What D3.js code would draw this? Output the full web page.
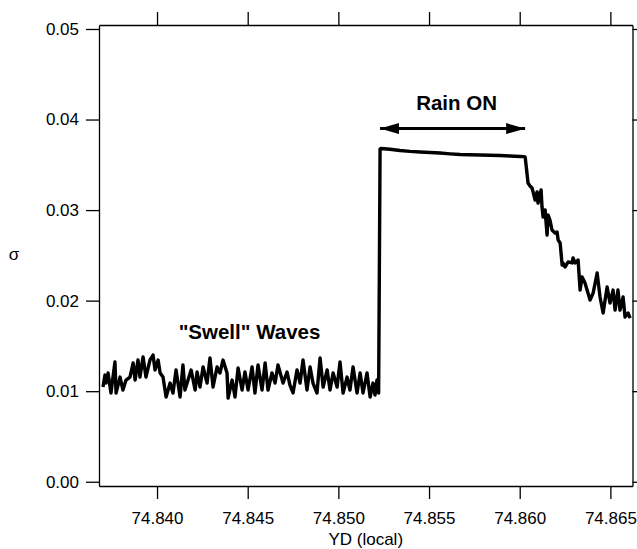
<!DOCTYPE html>
<html>
<head>
<meta charset="utf-8">
<script src="https://cdn.jsdelivr.net/npm/d3@7"></script>
<style>
  body { margin: 0; background: #fff; }
  svg { display: block; }
  text { font-family: "Liberation Sans", Arial, Helvetica, sans-serif; fill: #000; }
</style>
</head>
<body>
<svg id="chart" width="637" height="549"></svg>
<script>
// Time stamps (year-day, local) of the wave-height record
const yd = [
  74.83702, 74.83713, 74.83719, 74.83730, 74.83746, 74.83768, 74.83774, 74.83796, 74.83812, 74.83829,
  74.83851, 74.83868, 74.83879, 74.83895, 74.83906, 74.83923, 74.83939, 74.83961, 74.83978, 74.83989,
  74.84006, 74.84017, 74.84033, 74.84050, 74.84072, 74.84088, 74.84105, 74.84127, 74.84143, 74.84154,
  74.84171, 74.84188, 74.84210, 74.84221, 74.84237, 74.84254, 74.84276, 74.84292, 74.84309, 74.84331,
  74.84347, 74.84364, 74.84386, 74.84392, 74.84414, 74.84430, 74.84447, 74.84469, 74.84485, 74.84502,
  74.84524, 74.84540, 74.84557, 74.84579, 74.84596, 74.84612, 74.84634, 74.84651, 74.84667, 74.84695,
  74.84717, 74.84733, 74.84750, 74.84772, 74.84789, 74.84805, 74.84827, 74.84844, 74.84860, 74.84882,
  74.84899, 74.84916, 74.84938, 74.84954, 74.84971, 74.84993, 74.85009, 74.85026, 74.85048, 74.85064,
  74.85081, 74.85103, 74.85120, 74.85136, 74.85158, 74.85175, 74.85191, 74.85202, 74.85213, 74.85222,
  74.85230, 74.85235, 74.85285, 74.85340, 74.85395, 74.85450, 74.85506, 74.85561, 74.85616, 74.85671,
  74.85726, 74.85781, 74.85836, 74.85892, 74.85947, 74.86002, 74.86024, 74.86030, 74.86035, 74.86046,
  74.86057, 74.86068, 74.86074, 74.86085, 74.86096, 74.86101, 74.86118, 74.86123, 74.86129, 74.86140,
  74.86151, 74.86156, 74.86167, 74.86178, 74.86195, 74.86206, 74.86212, 74.86223, 74.86234, 74.86239,
  74.86250, 74.86267, 74.86289, 74.86294, 74.86305, 74.86322, 74.86333, 74.86344, 74.86360, 74.86388,
  74.86405, 74.86427, 74.86443, 74.86460, 74.86482, 74.86498, 74.86515, 74.86526, 74.86542, 74.86553,
  74.86570, 74.86581, 74.86598, 74.86609
];

// Standard deviation of surface elevation, sigma
const sigma = [
  0.01046, 0.01178, 0.01090, 0.01201, 0.00980, 0.01322, 0.00980, 0.01156, 0.01013, 0.01123,
  0.01156, 0.01311, 0.01123, 0.01344, 0.01156, 0.01377, 0.01156, 0.01344, 0.01399, 0.01234,
  0.01344, 0.01201, 0.01156, 0.00935, 0.01090, 0.00980, 0.01234, 0.00935, 0.01289, 0.01013,
  0.01123, 0.01234, 0.01013, 0.01212, 0.01046, 0.01267, 0.01090, 0.01366, 0.01046, 0.01267,
  0.01201, 0.01344, 0.01201, 0.00924, 0.01123, 0.00935, 0.01256, 0.01013, 0.01212, 0.01013,
  0.01267, 0.00980, 0.01289, 0.01013, 0.01311, 0.01013, 0.01201, 0.01090, 0.01289, 0.01090,
  0.01212, 0.01068, 0.00980, 0.01234, 0.01090, 0.01344, 0.01013, 0.01267, 0.01090, 0.00980,
  0.01366, 0.01046, 0.01234, 0.01013, 0.01201, 0.01046, 0.01322, 0.00980, 0.01156, 0.01013,
  0.01267, 0.00980, 0.01201, 0.00980, 0.01201, 0.00935, 0.01090, 0.00958, 0.01123, 0.00980,
  0.03675, 0.03680, 0.03672, 0.03658, 0.03648, 0.03641, 0.03636, 0.03630, 0.03621, 0.03614,
  0.03611, 0.03608, 0.03605, 0.03603, 0.03597, 0.03592, 0.03590, 0.03586, 0.03498, 0.03299,
  0.03266, 0.03244, 0.03200, 0.03111, 0.03200, 0.03078, 0.03222, 0.03034, 0.02924, 0.03001,
  0.02725, 0.02946, 0.02890, 0.02780, 0.02747, 0.02758, 0.02670, 0.02636, 0.02393, 0.02416,
  0.02371, 0.02427, 0.02416, 0.02471, 0.02416, 0.02449, 0.02117, 0.02261, 0.02195, 0.02007,
  0.02084, 0.02305, 0.02040, 0.01863, 0.02151, 0.01974, 0.02117, 0.01896, 0.02117, 0.01896,
  0.02040, 0.01819, 0.01863, 0.01808
];

const xTicks = [74.840, 74.845, 74.850, 74.855, 74.860, 74.865];
const yTicks = [0.00, 0.01, 0.02, 0.03, 0.04, 0.05];
const xDomain = [74.83680, 74.86622];
const yDomain = [-0.00047, 0.05044];

// Rain period marked by the double arrow, and the annotation texts
const rainPeriod = [74.85230, 74.86030];
const rainArrowLevel = 0.0390;
const rainLabel = "Rain ON";
const rainLabelPos = [74.85652, 0.0411];
const swellLabel = "\"Swell\" Waves";
const swellLabelPos = [74.84510, 0.01573];
const xTitle = "YD (local)";
const yTitle = "\u03c3";

const svg = d3.select("#chart");
const plotLeft = 99, plotRight = 632.5, plotTop = 25, plotBottom = 486;

const x = d3.scaleLinear().domain(xDomain).range([plotLeft, plotRight]);
const y = d3.scaleLinear().domain(yDomain).range([plotBottom, plotTop]);

function styleAxis(g) {
  g.attr("font-family", null).attr("font-size", null);
  g.selectAll("path, line").attr("stroke", "#000").attr("stroke-width", 1.3);
  g.selectAll("text").attr("font-size", 17).attr("fill", "#000");
}

svg.append("g")
  .attr("transform", `translate(${plotLeft},0)`)
  .call(d3.axisLeft(y).tickValues(yTicks).tickFormat(d3.format(".2f"))
    .tickSize(13).tickPadding(7).tickSizeOuter(0))
  .call(styleAxis);

svg.append("g")
  .attr("transform", `translate(${plotRight},0)`)
  .call(d3.axisRight(y).tickValues(yTicks).tickFormat("")
    .tickSize(13).tickSizeOuter(0))
  .call(styleAxis);

svg.append("g")
  .attr("transform", `translate(0,${plotBottom})`)
  .call(d3.axisBottom(x).tickValues(xTicks).tickFormat(d3.format(".3f"))
    .tickSize(13).tickPadding(12.5).tickSizeOuter(0))
  .call(styleAxis);

svg.append("g")
  .attr("transform", `translate(0,${plotTop})`)
  .call(d3.axisTop(x).tickValues(xTicks).tickFormat("")
    .tickSize(13).tickSizeOuter(0))
  .call(styleAxis);

// Series
const line = d3.line().x(d => x(d[0])).y(d => y(d[1]));
svg.append("path")
  .datum(d3.zip(yd, sigma))
  .attr("d", line)
  .attr("fill", "none")
  .attr("stroke", "#000")
  .attr("stroke-width", 3.4)
  .attr("stroke-linejoin", "round");

// Double-headed arrow spanning the rain period
const defs = svg.append("defs");
defs.append("marker")
  .attr("id", "head")
  .attr("viewBox", "0 0 19 11")
  .attr("refX", 19).attr("refY", 5.5)
  .attr("markerWidth", 19).attr("markerHeight", 11)
  .attr("markerUnits", "userSpaceOnUse")
  .attr("orient", "auto-start-reverse")
  .append("path").attr("d", "M0,0L19,5.5L0,11Z").attr("fill", "#000");

svg.append("line")
  .attr("x1", x(rainPeriod[0])).attr("x2", x(rainPeriod[1]))
  .attr("y1", y(rainArrowLevel)).attr("y2", y(rainArrowLevel))
  .attr("stroke", "#000").attr("stroke-width", 3)
  .attr("marker-start", "url(#head)").attr("marker-end", "url(#head)");

svg.append("text")
  .attr("x", x(rainLabelPos[0])).attr("y", y(rainLabelPos[1]))
  .attr("text-anchor", "middle").attr("font-size", 20.5).attr("font-weight", "bold")
  .text(rainLabel);

svg.append("text")
  .attr("x", x(swellLabelPos[0])).attr("y", y(swellLabelPos[1]))
  .attr("text-anchor", "middle").attr("font-size", 20.5).attr("font-weight", "bold")
  .text(swellLabel);

// Axis titles
svg.append("text")
  .attr("x", (plotLeft + plotRight) / 2).attr("y", 545)
  .attr("text-anchor", "middle").attr("font-size", 17)
  .text(xTitle);

svg.append("text")
  .attr("x", 14).attr("y", 260)
  .attr("text-anchor", "middle").attr("font-size", 17)
  .text(yTitle);
</script>
</body>
</html>
